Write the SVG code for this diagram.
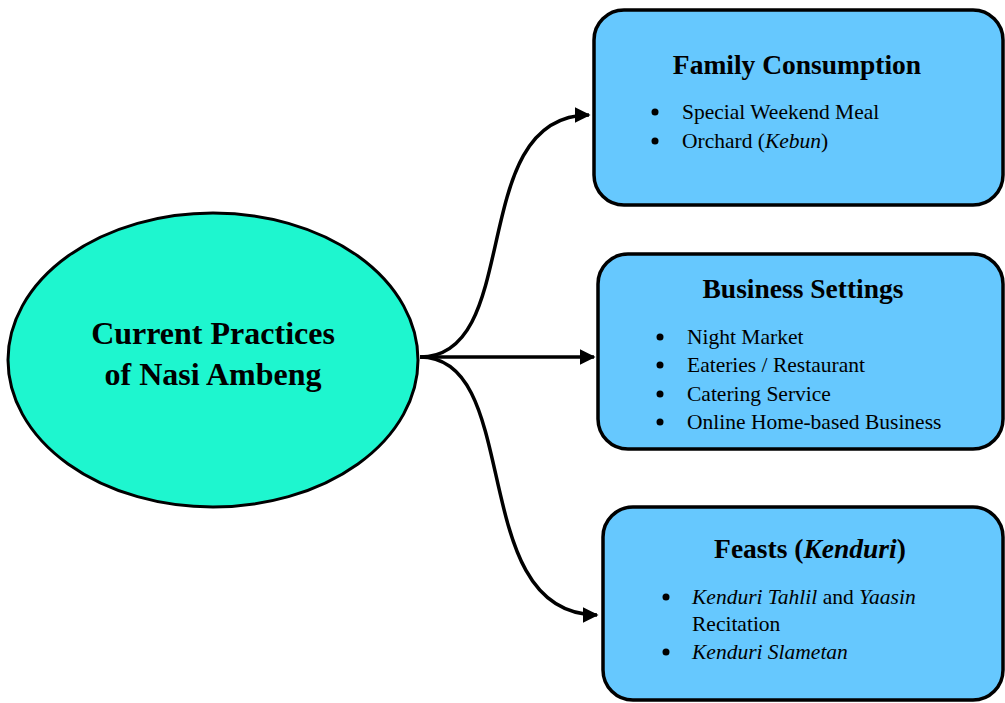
<svg xmlns="http://www.w3.org/2000/svg" width="1005" height="703" viewBox="0 0 1005 703">
<defs>
<marker id="arr" viewBox="0 0 10 10" refX="9" refY="5" markerWidth="4.5" markerHeight="4.5" orient="auto" markerUnits="strokeWidth">
<path d="M0,0 L10,5 L0,10 Z" fill="#000"/>
</marker>
</defs>
<style>
.box{fill:#66c8fe;stroke:#000;stroke-width:3.5}
.title{font-family:"Liberation Serif",serif;font-weight:bold;font-size:27.5px;fill:#000;text-anchor:middle}
.big{font-size:32px}
.item{font-family:"Liberation Serif",serif;font-size:21.5px;fill:#000}
.dot{fill:#000}
.conn{fill:none;stroke:#000;stroke-width:3.5}
</style>
<rect width="1005" height="703" fill="#fff"/>
<g id="connectors">
<path class="conn" d="M420,357 C525,357 465,115 589,115" marker-end="url(#arr)"/>
<path class="conn" d="M420,357 L594,357" marker-end="url(#arr)"/>
<path class="conn" d="M420,357 C525,357 465,615 597,615" marker-end="url(#arr)"/>
</g>
<g id="center">
<ellipse cx="213" cy="360" rx="205" ry="147" fill="#1ef6cf" stroke="#000" stroke-width="3"/>
<text class="title big" x="213" y="344">Current Practices</text>
<text class="title big" x="213" y="385">of Nasi Ambeng</text>
</g>
<g id="family">
<rect class="box" x="594" y="10" width="409" height="195" rx="30"/>
<text class="title" x="797" y="74">Family Consumption</text>
<circle class="dot" cx="655" cy="112" r="3.5"/><text class="item" x="682" y="119">Special Weekend Meal</text>
<circle class="dot" cx="655" cy="141" r="3.5"/><text class="item" x="682" y="148">Orchard (<tspan font-style="italic">Kebun</tspan>)</text>
</g>
<g id="business">
<rect class="box" x="598" y="254" width="405" height="195" rx="30"/>
<text class="title" x="803" y="298">Business Settings</text>
<circle class="dot" cx="660" cy="337" r="3.5"/><text class="item" x="687" y="344">Night Market</text>
<circle class="dot" cx="660" cy="365" r="3.5"/><text class="item" x="687" y="372">Eateries / Restaurant</text>
<circle class="dot" cx="660" cy="394" r="3.5"/><text class="item" x="687" y="401">Catering Service</text>
<circle class="dot" cx="660" cy="422" r="3.5"/><text class="item" x="687" y="429">Online Home-based Business</text>
</g>
<g id="feasts">
<rect class="box" x="603" y="507" width="400" height="193" rx="30"/>
<text class="title" x="810" y="558">Feasts (<tspan font-style="italic">Kenduri</tspan>)</text>
<circle class="dot" cx="666" cy="597" r="3.5"/><text class="item" x="692" y="604"><tspan font-style="italic">Kenduri Tahlil</tspan> and <tspan font-style="italic">Yaasin</tspan></text>
<text class="item" x="692" y="631">Recitation</text>
<circle class="dot" cx="666" cy="652" r="3.5"/><text class="item" x="692" y="659" font-style="italic">Kenduri Slametan</text>
</g>
</svg>
